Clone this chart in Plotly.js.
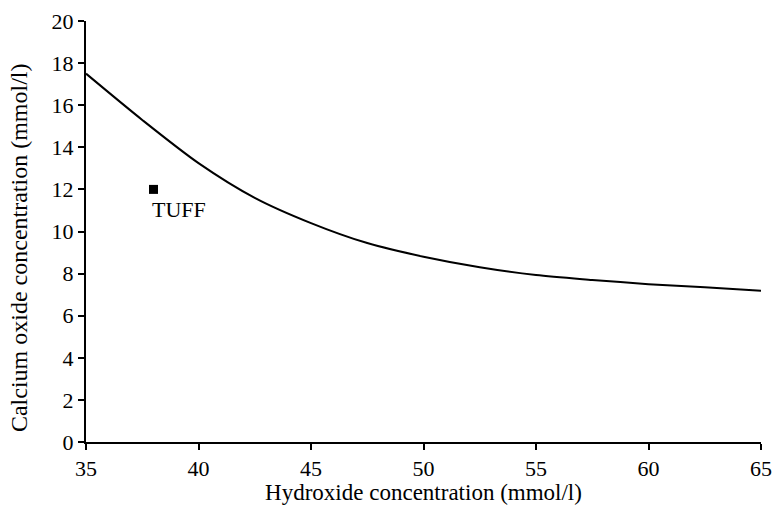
<!DOCTYPE html>
<html>
<head>
<meta charset="utf-8">
<script src="https://cdn.plot.ly/plotly-3.0.1.min.js"></script>
<style>html,body{margin:0;padding:0;background:#fff;}#chart{width:775px;height:505px;}</style>
</head>
<body>
<div id="chart"></div>
<script>
const curveX = [35, 37.5, 40, 42.5, 45, 47.5, 50, 52.5, 55, 57.5, 60, 62.5, 65];
const curveY = [17.5, 15.3, 13.25, 11.6, 10.4, 9.45, 8.8, 8.3, 7.93, 7.7, 7.5, 7.35, 7.19];
const tuffX = [38];
const tuffY = [12];
const tuffLabel = ['TUFF'];
const xTicks = [35, 40, 45, 50, 55, 60, 65];
const yTicks = [0, 2, 4, 6, 8, 10, 12, 14, 16, 18, 20];
const xTitle = 'Hydroxide concentration (mmol/l)';
const yTitle = 'Calcium oxide concentration (mmol/l)';

const serif = 'Liberation Serif';

const traces = [
  {x: curveX, y: curveY, mode: 'lines', type: 'scatter',
   line: {color: '#000', width: 2, shape: 'spline', smoothing: 0.8}, hoverinfo: 'skip'},
  {x: tuffX, y: tuffY, mode: 'markers', type: 'scatter',
   marker: {symbol: 'square', size: 9, color: '#000'}}
];

const layout = {
  width: 775, height: 505,
  margin: {l: 86, r: 14, t: 21, b: 63},
  showlegend: false,
  paper_bgcolor: '#fff', plot_bgcolor: '#fff',
  font: {family: serif, color: '#000', size: 22},
  xaxis: {
    range: [35, 65], tickvals: xTicks, ticktext: xTicks.map(String),
    showgrid: false, zeroline: false, showline: true, linecolor: '#000', linewidth: 2,
    ticks: 'outside', ticklen: 6, tickwidth: 2, tickcolor: '#000',
    tickfont: {family: serif, size: 22, color: '#000'},
    title: {text: xTitle, font: {family: serif, size: 23, color: '#000'}, standoff: 7}
  },
  yaxis: {
    range: [0, 20], tickvals: yTicks, ticktext: yTicks.map(String),
    showgrid: false, zeroline: false, showline: true, linecolor: '#000', linewidth: 2,
    ticks: 'outside', ticklen: 6, tickwidth: 2, tickcolor: '#000',
    tickfont: {family: serif, size: 22, color: '#000'}
  },
  annotations: [{
    x: tuffX[0], y: tuffY[0], text: tuffLabel[0], showarrow: false,
    xanchor: 'left', yanchor: 'top', xshift: -4, yshift: -6,
    font: {family: serif, size: 22, color: '#000'}
  }, {
    xref: 'paper', yref: 'paper', x: -0.0993, y: 0.463, text: yTitle,
    textangle: -90, showarrow: false, xanchor: 'center', yanchor: 'middle',
    font: {family: serif, size: 24, color: '#000'}
  }]
};

Plotly.newPlot('chart', traces, layout, {displayModeBar: false, staticPlot: true});
</script>
</body>
</html>
